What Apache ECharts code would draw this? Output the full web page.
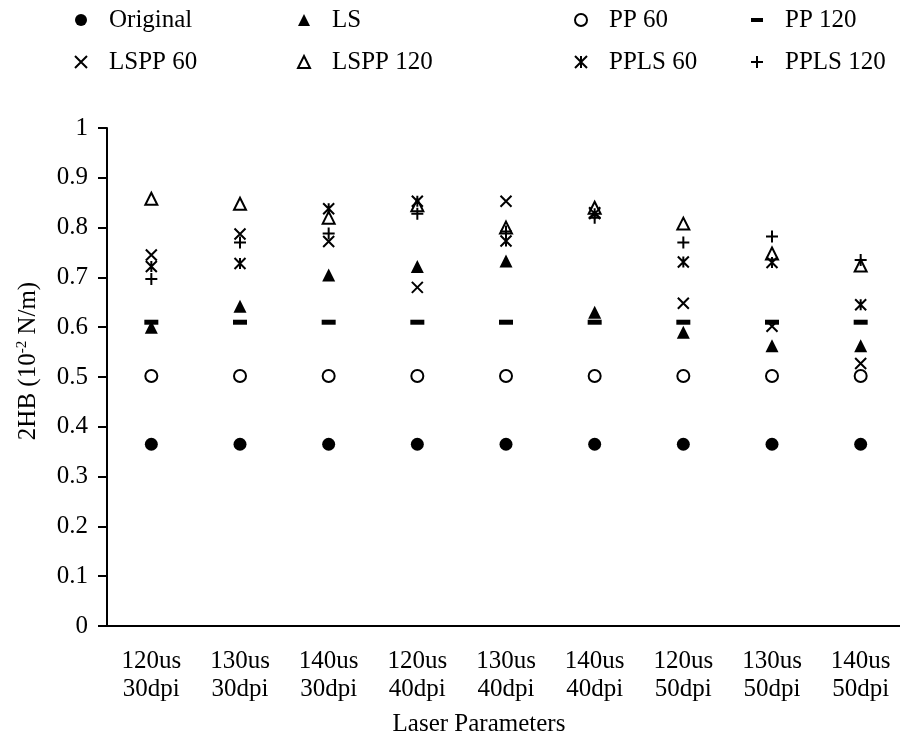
<!DOCTYPE html>
<html>
<head>
<meta charset="utf-8">
<script src="https://cdn.jsdelivr.net/npm/echarts@6/dist/echarts.min.js"></script>
<style>
  html, body { margin: 0; padding: 0; background: #fff; }
  #chart { width: 900px; height: 738px; }
</style>
</head>
<body>
<div id="chart"></div>
<script>
const categories = [
  '120us\n30dpi', '130us\n30dpi', '140us\n30dpi',
  '120us\n40dpi', '130us\n40dpi', '140us\n40dpi',
  '120us\n50dpi', '130us\n50dpi', '140us\n50dpi'
]
const original = [0.365, 0.365, 0.365, 0.365, 0.365, 0.365, 0.365, 0.365, 0.365]
const ls = [0.600, 0.642, 0.705, 0.722, 0.733, 0.630, 0.590, 0.563, 0.563]
const pp60 = [0.502, 0.502, 0.502, 0.502, 0.502, 0.502, 0.502, 0.502, 0.502]
const pp120 = [0.610, 0.610, 0.610, 0.610, 0.610, 0.610, 0.610, 0.610, 0.610]
const lspp60 = [0.745, 0.787, 0.772, 0.680, 0.853, 0.830, 0.648, 0.602, 0.527]
const lspp120 = [0.858, 0.848, 0.820, 0.845, 0.800, 0.840, 0.808, 0.748, 0.724]
const ppls60 = [0.722, 0.728, 0.838, 0.853, 0.773, 0.828, 0.731, 0.730, 0.645]
const ppls120 = [0.697, 0.770, 0.788, 0.828, 0.792, 0.820, 0.770, 0.782, 0.735]

const font = "'Liberation Serif', 'Times New Roman', serif"
const black = '#000'

const crossPath = 'path://M0,0L10,10M10,0L0,10'
const plusPath = 'path://M5,0L5,10M0,5L10,5'
const starPath = 'path://M0,0L10,10M10,0L0,10M5,0L5,10'

const scatter = (name, data, symbol, symbolSize, itemStyle) => ({
  type: 'scatter',
  name,
  data,
  symbol,
  symbolSize,
  itemStyle: Object.assign({ color: black, opacity: 1 }, itemStyle || {}),
  emphasis: { disabled: true },
})

const legendBase = {
  orient: 'vertical',
  top: 7,
  padding: 0,
  itemWidth: 12,
  itemHeight: 12,
  itemGap: 16,
  selectedMode: false,
  textStyle: {
    fontFamily: font,
    fontSize: 25,
    color: black,
    lineHeight: 26,
    padding: [0, 0, 0, 17],
  },
}

const chart = echarts.init(document.getElementById('chart'))
chart.setOption({
  animation: false,
  backgroundColor: '#fff',
  textStyle: { fontFamily: font },
  grid: { left: 107, right: -5, top: 128, bottom: 112, outerBoundsMode: 'none', containLabel: false },
  legend: [
    Object.assign({}, legendBase, { left: 74, data: ['Original', 'LSPP 60'] }),
    Object.assign({}, legendBase, { left: 297, data: ['LS', 'LSPP 120'] }),
    Object.assign({}, legendBase, { left: 574, data: ['PP 60', 'PPLS 60'] }),
    Object.assign({}, legendBase, {
      left: 750,
      data: [{ name: 'PP 120', icon: 'path://M0,0h12v4h-12z' }, 'PPLS 120'],
    }),
  ],
  xAxis: {
    type: 'category',
    data: categories,
    boundaryGap: true,
    name: 'Laser Parameters',
    nameLocation: 'middle',
    nameGap: 86,
    nameTextStyle: { fontFamily: font, fontSize: 25, color: black, padding: [0, 54, 0, 0] },
    axisLine: { lineStyle: { color: black, width: 2 } },
    axisTick: { length: 8, lineStyle: { color: black, width: 2 } },
    axisLabel: {
      fontFamily: font,
      fontSize: 25,
      color: black,
      lineHeight: 28,
      margin: 21,
      interval: 0,
    },
    splitLine: { show: false },
  },
  yAxis: {
    type: 'value',
    min: 0,
    max: 1,
    interval: 0.1,
    name: '2HB (10{sup|-2} N/m)',
    nameLocation: 'middle',
    nameGap: 65,
    nameRotate: 90,
    nameTextStyle: {
      fontFamily: font,
      fontSize: 25,
      color: black,
      padding: [0, 0, 0, 32],
      rich: {
        sup: { fontFamily: font, fontSize: 15, color: black, padding: [0, 0, 12, 0] },
      },
    },
    axisLine: { show: true, lineStyle: { color: black, width: 2 } },
    axisTick: { show: true, length: 9, lineStyle: { color: black, width: 2 } },
    axisLabel: { fontFamily: font, fontSize: 25, color: black, margin: 19 },
    splitLine: { show: false },
  },
  series: [
    scatter('Original', original, 'circle', 13),
    scatter('LS', ls, 'triangle', 13),
    scatter('PP 60', pp60, 'emptyCircle', 12, { borderColor: black, borderWidth: 1.6 }),
    scatter('PP 120', pp120, 'rect', [14, 5]),
    scatter('LSPP 60', lspp60, crossPath, 11, { borderColor: black, borderWidth: 2 }),
    scatter('LSPP 120', lspp120, 'emptyTriangle', 12, { borderColor: black, borderWidth: 1.6 }),
    scatter('PPLS 60', ppls60, starPath, 11, { borderColor: black, borderWidth: 2 }),
    scatter('PPLS 120', ppls120, plusPath, 12, { borderColor: black, borderWidth: 2 }),
  ],
})
</script>
</body>
</html>
